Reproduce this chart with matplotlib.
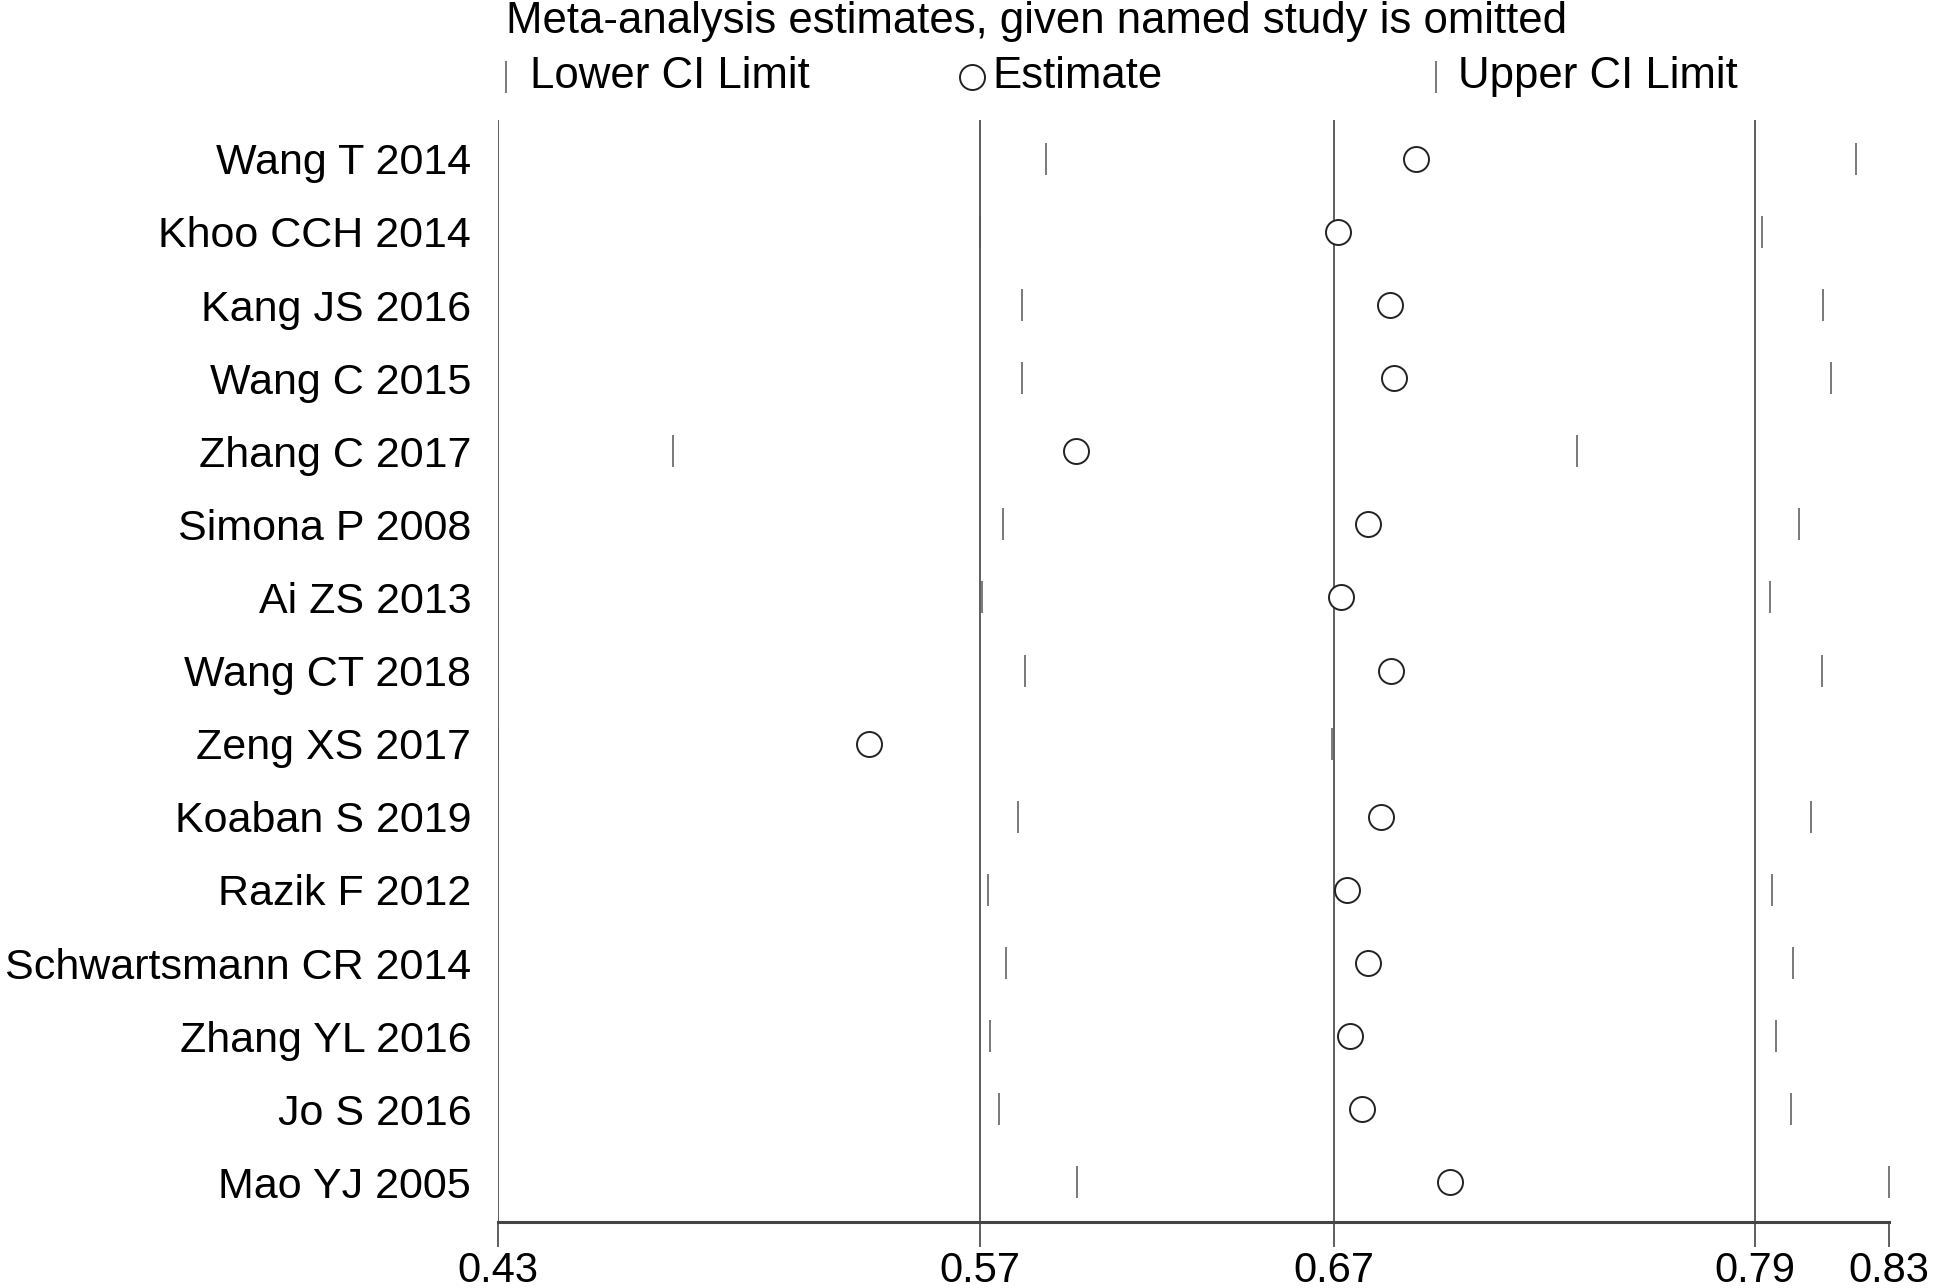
import numpy as np
import matplotlib
matplotlib.use("Agg")
import matplotlib.pyplot as plt
from matplotlib.lines import Line2D

plt.rcParams["font.family"] = ["Liberation Sans", "DejaVu Sans"]

studies = [
    "Wang T 2014", "Khoo CCH 2014", "Kang JS 2016", "Wang C 2015",
    "Zhang C 2017", "Simona P 2008", "Ai ZS 2013", "Wang CT 2018",
    "Zeng XS 2017", "Koaban S 2019", "Razik F 2012", "Schwartsmann CR 2014",
    "Zhang YL 2016", "Jo S 2016", "Mao YJ 2005",
]
lower = [0.5877, 0.5688, 0.5809, 0.5809, 0.4803, 0.5752, 0.5692, 0.5817,
         0.4300, 0.5795, 0.5709, 0.5763, 0.5717, 0.5742, 0.5966]
estimate = [0.6941, 0.6716, 0.6866, 0.6876, 0.5963, 0.6801, 0.6726, 0.6869,
            0.5367, 0.6841, 0.6741, 0.6801, 0.6751, 0.6784, 0.7037]
upper = [0.8204, 0.7936, 0.8111, 0.8132, 0.7404, 0.8040, 0.7957, 0.8107,
         0.6698, 0.8075, 0.7965, 0.8025, 0.7975, 0.8018, 0.8300]

# overall estimate with its CI, plus the extremes of the limits
ref_lines = [0.4300, 0.5686, 0.6705, 0.7915]
xticks = [0.4300, 0.5686, 0.6705, 0.7915, 0.8300]

FS = 31.5

fig = plt.figure(figsize=(19.46, 12.88), dpi=100)
ax = fig.add_axes([0.2557, 0.0511, 0.9707 - 0.2557, 0.9066 - 0.0511])

y = np.arange(len(studies))
for v in ref_lines:
    ax.axvline(v, color="#333333", lw=1.1, zorder=1)

ax.plot(lower, y, ls="none", marker="|", ms=23, mew=1.1, color="#555555", zorder=3)
ax.plot(upper, y, ls="none", marker="|", ms=23, mew=1.1, color="#555555", zorder=3)
ax.plot(estimate, y, ls="none", marker="o", ms=18, mfc="white", mec="#222222",
        mew=1.4, zorder=4)

ax.set_xlim(min(lower), max(upper))
ax.set_ylim(len(studies) - 1 + 0.543, -0.526)

ax.set_yticks(y)
ax.set_yticklabels(studies, fontsize=31)
ax.tick_params(axis="y", length=0, pad=19)
ax.set_xticks(xticks)
ax.set_xticklabels([f"{v:.2f}" for v in xticks], fontsize=30)
ax.tick_params(axis="x", length=18, width=1.1, color="#333333", pad=3)

for s in ["top", "right", "left"]:
    ax.spines[s].set_visible(False)
ax.spines["bottom"].set_linewidth(2.2)
ax.spines["bottom"].set_color("#444444")

# header and legend
fig.text(408 / 1568, 1 - 17 / 1038, "Meta-analysis estimates, given named study is omitted",
         fontsize=FS, ha="left", va="center")
leg_y = 1 - 62 / 1038
items = [("|", 408, 427, "Lower CI Limit"), ("o", 783, 800, "Estimate"),
         ("|", 1157, 1175, "Upper CI Limit")]
for mk, mx, tx, label in items:
    if mk == "o":
        m = Line2D([mx / 1568], [leg_y], transform=fig.transFigure, ls="none",
                   marker="o", ms=18, mfc="white", mec="#222222", mew=1.4)
    else:
        m = Line2D([mx / 1568], [leg_y], transform=fig.transFigure, ls="none",
                   marker="|", ms=23, mew=1.1, color="#555555")
    fig.add_artist(m)
    fig.text(tx / 1568, leg_y, label, fontsize=FS, ha="left", va="center")

fig.savefig("out.png", dpi=100)
